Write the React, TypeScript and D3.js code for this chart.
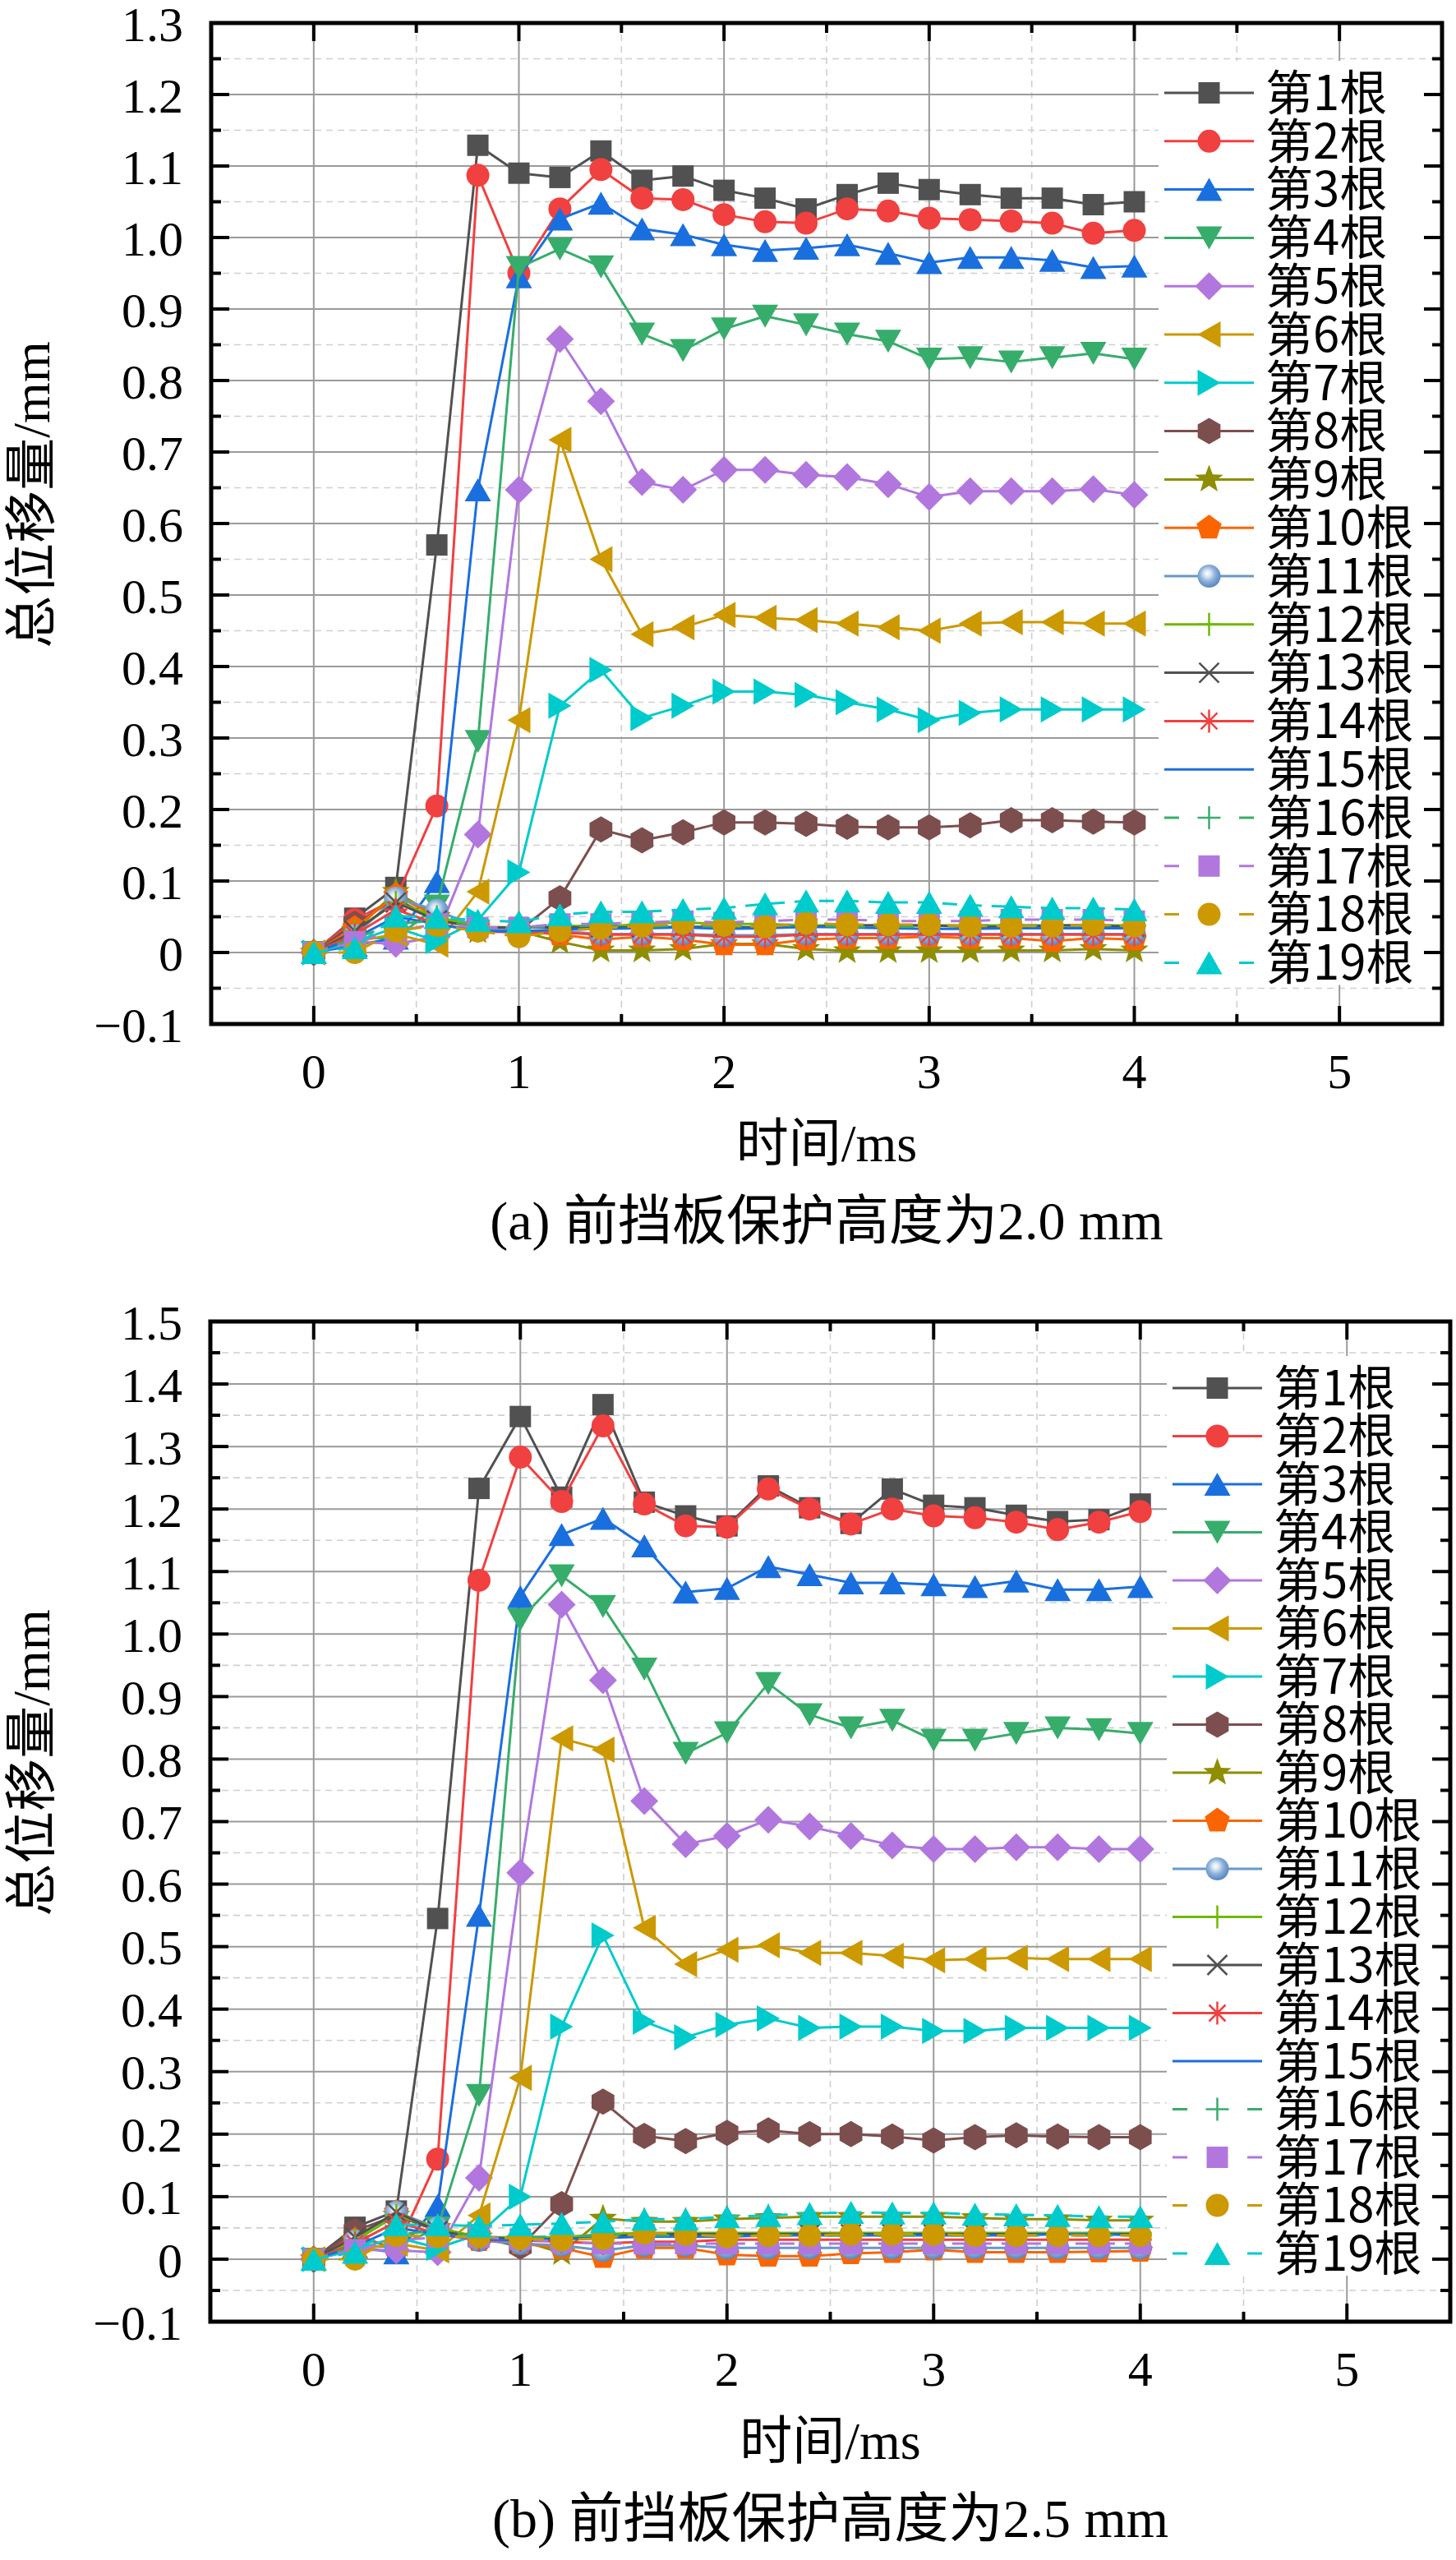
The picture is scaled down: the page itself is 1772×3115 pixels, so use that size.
import * as d3 from "d3";

// time axis (ms)
const times = [0, 0.2, 0.4, 0.6, 0.8, 1.0, 1.2, 1.4, 1.6, 1.8, 2.0, 2.2, 2.4, 2.6, 2.8, 3.0, 3.2, 3.4, 3.6, 3.8, 4.0];

const seriesNames = [
  "第1根", "第2根", "第3根", "第4根", "第5根", "第6根", "第7根", "第8根", "第9根", "第10根",
  "第11根", "第12根", "第13根", "第14根", "第15根", "第16根", "第17根", "第18根", "第19根",
];

const xTicks = [0, 1, 2, 3, 4, 5];
const xMinor = [0.5, 1.5, 2.5, 3.5, 4.5];
const yTicksA = [-0.1, 0, 0.1, 0.2, 0.3, 0.4, 0.5, 0.6, 0.7, 0.8, 0.9, 1.0, 1.1, 1.2, 1.3];
const yTicksB = [-0.1, 0, 0.1, 0.2, 0.3, 0.4, 0.5, 0.6, 0.7, 0.8, 0.9, 1.0, 1.1, 1.2, 1.3, 1.4, 1.5];

// (a) 2.0 mm
const a1 = [0, 0.048, 0.091, 0.57, 1.129, 1.09, 1.084, 1.121, 1.08, 1.086, 1.066, 1.055, 1.04, 1.06, 1.076, 1.067, 1.06, 1.055, 1.055, 1.046, 1.05];
const a2 = [0, 0.046, 0.075, 0.205, 1.087, 0.95, 1.04, 1.095, 1.055, 1.053, 1.032, 1.022, 1.02, 1.04, 1.037, 1.027, 1.025, 1.023, 1.02, 1.006, 1.01];
const a3 = [0, 0.01, 0.02, 0.099, 0.647, 0.945, 1.026, 1.048, 1.012, 1.004, 0.99, 0.982, 0.985, 0.99, 0.978, 0.965, 0.972, 0.972, 0.968, 0.958, 0.96];
const a4 = [0, 0.02, 0.02, 0.065, 0.295, 0.958, 0.984, 0.959, 0.865, 0.842, 0.872, 0.89, 0.878, 0.865, 0.855, 0.83, 0.832, 0.826, 0.832, 0.838, 0.83];
const a5 = [0, 0.015, 0.012, 0.022, 0.165, 0.647, 0.858, 0.771, 0.658, 0.647, 0.675, 0.675, 0.668, 0.665, 0.655, 0.637, 0.645, 0.645, 0.645, 0.648, 0.64];
const a6 = [0, 0.015, 0.026, 0.011, 0.085, 0.325, 0.717, 0.55, 0.445, 0.455, 0.472, 0.468, 0.465, 0.46, 0.455, 0.45, 0.46, 0.462, 0.462, 0.46, 0.46];
const a7 = [0, 0.015, 0.035, 0.016, 0.045, 0.112, 0.345, 0.395, 0.328, 0.345, 0.365, 0.365, 0.36, 0.35, 0.34, 0.325, 0.335, 0.34, 0.34, 0.34, 0.34];
const a8 = [0, 0.04, 0.075, 0.045, 0.035, 0.03, 0.076, 0.172, 0.157, 0.168, 0.182, 0.182, 0.18, 0.176, 0.175, 0.175, 0.178, 0.185, 0.185, 0.183, 0.182];
const a9 = [0, 0.03, 0.085, 0.05, 0.03, 0.03, 0.015, 0.003, 0.003, 0.005, 0.012, 0.012, 0.005, 0.002, 0.002, 0.002, 0.002, 0.003, 0.003, 0.005, 0.003];
const a10 = [0, 0.034, 0.08, 0.05, 0.035, 0.03, 0.025, 0.018, 0.022, 0.018, 0.011, 0.011, 0.018, 0.02, 0.02, 0.022, 0.02, 0.02, 0.016, 0.02, 0.018];
const a11 = [0, 0.024, 0.076, 0.059, 0.035, 0.03, 0.03, 0.026, 0.026, 0.026, 0.024, 0.024, 0.026, 0.026, 0.026, 0.026, 0.026, 0.026, 0.026, 0.026, 0.026];
const a12 = [0, 0.03, 0.07, 0.05, 0.036, 0.035, 0.038, 0.036, 0.04, 0.042, 0.04, 0.04, 0.038, 0.038, 0.038, 0.038, 0.038, 0.038, 0.038, 0.038, 0.038];
const a13 = [0, 0.03, 0.07, 0.045, 0.035, 0.035, 0.035, 0.035, 0.035, 0.036, 0.036, 0.035, 0.036, 0.038, 0.038, 0.038, 0.036, 0.036, 0.038, 0.038, 0.036];
const a14 = [0, 0.025, 0.06, 0.04, 0.03, 0.028, 0.028, 0.025, 0.025, 0.025, 0.022, 0.022, 0.025, 0.025, 0.025, 0.025, 0.025, 0.025, 0.025, 0.025, 0.025];
const a15 = [0, 0.02, 0.05, 0.04, 0.03, 0.03, 0.032, 0.033, 0.034, 0.035, 0.033, 0.034, 0.036, 0.035, 0.034, 0.033, 0.033, 0.034, 0.034, 0.034, 0.034];
const a16 = [0, 0.02, 0.04, 0.045, 0.035, 0.035, 0.036, 0.038, 0.036, 0.038, 0.036, 0.038, 0.038, 0.036, 0.036, 0.036, 0.038, 0.038, 0.038, 0.038, 0.038];
const a17 = [0, 0.015, 0.03, 0.04, 0.035, 0.035, 0.04, 0.04, 0.042, 0.044, 0.042, 0.044, 0.046, 0.046, 0.044, 0.044, 0.044, 0.046, 0.046, 0.046, 0.044];
const a18 = [0, 0, 0.03, 0.038, 0.03, 0.022, 0.03, 0.034, 0.037, 0.041, 0.038, 0.036, 0.041, 0.039, 0.039, 0.039, 0.037, 0.037, 0.037, 0.039, 0.037];
const a19 = [0, 0.007, 0.051, 0.049, 0.045, 0.043, 0.053, 0.057, 0.057, 0.06, 0.062, 0.068, 0.072, 0.072, 0.07, 0.07, 0.066, 0.064, 0.062, 0.062, 0.06];

// (b) 2.5 mm
const b1 = [0, 0.051, 0.077, 0.545, 1.233, 1.348, 1.219, 1.367, 1.211, 1.189, 1.173, 1.237, 1.202, 1.177, 1.232, 1.206, 1.202, 1.19, 1.18, 1.183, 1.208];
const b2 = [0, 0.04, 0.015, 0.16, 1.086, 1.283, 1.212, 1.333, 1.208, 1.173, 1.171, 1.232, 1.2, 1.176, 1.2, 1.189, 1.186, 1.179, 1.167, 1.179, 1.196];
const b3 = [0, 0.02, 0.01, 0.086, 0.55, 1.06, 1.159, 1.185, 1.141, 1.067, 1.073, 1.108, 1.095, 1.082, 1.082, 1.079, 1.076, 1.085, 1.071, 1.071, 1.076];
const b4 = [0, 0.02, 0.02, 0.05, 0.262, 1.023, 1.093, 1.044, 0.944, 0.809, 0.842, 0.921, 0.871, 0.85, 0.862, 0.83, 0.83, 0.841, 0.85, 0.847, 0.841];
const b5 = [0, 0.015, 0.014, 0.011, 0.13, 0.618, 1.047, 0.926, 0.733, 0.664, 0.677, 0.703, 0.692, 0.677, 0.662, 0.656, 0.656, 0.659, 0.659, 0.656, 0.656];
const b6 = [0, 0.015, 0.025, 0.014, 0.07, 0.29, 0.833, 0.815, 0.53, 0.472, 0.495, 0.502, 0.49, 0.49, 0.485, 0.478, 0.48, 0.482, 0.48, 0.48, 0.48];
const b7 = [0, 0.015, 0.035, 0.018, 0.04, 0.1, 0.372, 0.518, 0.38, 0.355, 0.375, 0.385, 0.37, 0.372, 0.372, 0.365, 0.365, 0.37, 0.37, 0.37, 0.37];
const b8 = [0, 0.045, 0.07, 0.045, 0.035, 0.02, 0.088, 0.252, 0.197, 0.189, 0.202, 0.206, 0.2, 0.2, 0.196, 0.19, 0.195, 0.198, 0.196, 0.195, 0.195];
const b9 = [0, 0.03, 0.07, 0.05, 0.035, 0.03, 0.01, 0.065, 0.06, 0.06, 0.064, 0.066, 0.068, 0.068, 0.068, 0.068, 0.066, 0.064, 0.064, 0.062, 0.062];
const b10 = [0, 0.03, 0.075, 0.05, 0.03, 0.025, 0.018, 0.003, 0.018, 0.018, 0.007, 0.005, 0.005, 0.009, 0.011, 0.015, 0.011, 0.011, 0.011, 0.012, 0.013];
const b11 = [0, 0.029, 0.075, 0.05, 0.03, 0.025, 0.022, 0.014, 0.022, 0.022, 0.018, 0.018, 0.018, 0.018, 0.018, 0.018, 0.018, 0.018, 0.018, 0.018, 0.018];
const b12 = [0, 0.03, 0.07, 0.05, 0.035, 0.035, 0.035, 0.04, 0.042, 0.042, 0.042, 0.042, 0.042, 0.042, 0.042, 0.042, 0.042, 0.042, 0.042, 0.042, 0.042];
const b13 = [0, 0.035, 0.075, 0.045, 0.035, 0.032, 0.032, 0.035, 0.04, 0.04, 0.04, 0.04, 0.04, 0.04, 0.04, 0.04, 0.04, 0.04, 0.04, 0.04, 0.04];
const b14 = [0, 0.025, 0.06, 0.04, 0.03, 0.03, 0.028, 0.025, 0.028, 0.028, 0.031, 0.031, 0.031, 0.031, 0.031, 0.031, 0.031, 0.031, 0.031, 0.031, 0.031];
const b15 = [0, 0.02, 0.05, 0.04, 0.032, 0.03, 0.032, 0.034, 0.036, 0.036, 0.036, 0.038, 0.038, 0.038, 0.038, 0.038, 0.038, 0.038, 0.04, 0.04, 0.038];
const b16 = [0, 0.02, 0.04, 0.045, 0.035, 0.035, 0.036, 0.038, 0.038, 0.038, 0.038, 0.038, 0.038, 0.038, 0.038, 0.038, 0.038, 0.038, 0.038, 0.038, 0.038];
const b17 = [0, 0.015, 0.03, 0.035, 0.035, 0.032, 0.028, 0.025, 0.025, 0.025, 0.025, 0.025, 0.025, 0.025, 0.025, 0.025, 0.025, 0.025, 0.025, 0.025, 0.025];
const b18 = [0, 0, 0.038, 0.036, 0.036, 0.033, 0.031, 0.033, 0.042, 0.04, 0.036, 0.038, 0.038, 0.04, 0.04, 0.04, 0.038, 0.038, 0.038, 0.038, 0.038];
const b19 = [0, 0.011, 0.055, 0.055, 0.053, 0.055, 0.057, 0.06, 0.064, 0.064, 0.068, 0.07, 0.073, 0.075, 0.074, 0.074, 0.072, 0.071, 0.07, 0.068, 0.068];

const dataA = [a1, a2, a3, a4, a5, a6, a7, a8, a9, a10, a11, a12, a13, a14, a15, a16, a17, a18, a19];
const dataB = [b1, b2, b3, b4, b5, b6, b7, b8, b9, b10, b11, b12, b13, b14, b15, b16, b17, b18, b19];

const COLORS = [
  "#515151", "#F14040", "#1A6FDF", "#37AD6B", "#B177DE", "#CC9900", "#00CBCC", "#7D4E4E", "#8E8E00", "#FB6501",
  "#6699CC", "#6FB802", "#515151", "#F14040", "#1A6FDF", "#37AD6B", "#B177DE", "#CC9900", "#00CBCC",
];
const SYMBOLS = [
  "square", "circle", "up", "down", "diamond", "left", "right", "hexagon", "star", "pentagon",
  "sphere", "plus", "cross", "asterisk", "none", "plus", "square", "circle", "up",
];

const SERIF = "'Times New Roman', 'Liberation Serif', 'Noto Sans CJK SC', serif";
const CJK = "'Noto Sans CJK SC', 'Liberation Sans', sans-serif";

function polygon(n: number, r: number, start: number) {
  const pts = d3.range(n).map((i) => {
    const a = start + (i * 2 * Math.PI) / n;
    return [r * Math.cos(a), r * Math.sin(a)];
  });
  return "M" + pts.map((p) => p[0].toFixed(2) + "," + p[1].toFixed(2)).join("L") + "Z";
}

function starPath(outer: number, inner: number) {
  const pts = d3.range(10).map((i) => {
    const r = i % 2 === 0 ? outer : inner;
    const a = -Math.PI / 2 + (i * Math.PI) / 5;
    return [r * Math.cos(a), r * Math.sin(a)];
  });
  return "M" + pts.map((p) => p[0].toFixed(2) + "," + p[1].toFixed(2)).join("L") + "Z";
}

const FILLED: Record<string, string> = {
  square: "M-13,-13H13V13H-13Z",
  up: "M0,-14L16,14L-16,14Z",
  down: "M0,14L16,-14L-16,-14Z",
  left: "M-14,0L14,-16L14,16Z",
  right: "M14,0L-14,-16L-14,16Z",
  diamond: "M0,-17L17,0L0,17L-17,0Z",
  hexagon: polygon(6, 16, -Math.PI / 2),
  star: starPath(18, 7.5),
  pentagon: polygon(5, 16, -Math.PI / 2),
};
const STROKED: Record<string, string> = {
  plus: "M-14,0H14M0,-14V14",
  cross: "M-12,-12L12,12M-12,12L12,-12",
  asterisk: "M0,-14V14M-14,0H14M-10,-10L10,10M-10,10L10,-10",
};

function Marker({ type, color, x, y }: { type: string; color: string; x: number; y: number }) {
  if (type === "none") return null;
  if (type === "circle") return <circle cx={x} cy={y} r={14} fill={color} />;
  if (type === "sphere") return <circle cx={x} cy={y} r={14} fill="url(#sphereGrad)" />;
  if (FILLED[type]) return <path d={FILLED[type]} transform={`translate(${x},${y})`} fill={color} />;
  return <path d={STROKED[type]} transform={`translate(${x},${y})`} fill="none" stroke={color} strokeWidth={2.5} />;
}

interface PanelCfg {
  left: number;
  right: number;
  top: number;
  bottom: number;
  yTicks: number[];
  titleY: number;
  legendFirst: number;
  legendStep: number;
  caption: string;
}

const fmt = (v: number) => (Math.abs(v) < 1e-9 ? "0" : v.toFixed(1).replace("-", "\u2212"));

function Panel({ cfg, data }: { cfg: PanelCfg; data: number[][] }) {
  const { left, right, top, bottom, yTicks } = cfg;
  const x = d3.scaleLinear().domain([-0.5, 5.5]).range([left, right]);
  const y = d3.scaleLinear().domain([yTicks[0], yTicks[yTicks.length - 1]]).range([bottom, top]);
  const yMinor = yTicks.slice(1).map((v, i) => (v + yTicks[i]) / 2);
  const line = d3
    .line<number>()
    .x((_, i) => x(times[i]))
    .y((d) => y(d));

  const lx0 = right - 338;
  const lx1 = right - 229;
  const lxm = (lx0 + lx1) / 2;
  const textX = right - 215;
  const rowY = (i: number) => cfg.legendFirst + i * cfg.legendStep;
  const boxTop = rowY(0) - 39;
  const boxBottom = rowY(seriesNames.length - 1) + 27;
  const midX = (left + right) / 2;
  const midY = (top + bottom) / 2;

  return (
    <g>
      {/* grid */}
      {xMinor.map((t) => (
        <line key={"xm" + t} x1={x(t)} x2={x(t)} y1={top} y2={bottom} stroke="#cfcfcf" strokeWidth={1.6} strokeDasharray="8 6" />
      ))}
      {yMinor.map((v) => (
        <line key={"ym" + v} x1={left} x2={right} y1={y(v)} y2={y(v)} stroke="#cfcfcf" strokeWidth={1.6} strokeDasharray="8 6" />
      ))}
      {xTicks.map((t) => (
        <line key={"xg" + t} x1={x(t)} x2={x(t)} y1={top} y2={bottom} stroke="#9a9a9a" strokeWidth={2} />
      ))}
      {yTicks.map((v) => (
        <line key={"yg" + v} x1={left} x2={right} y1={y(v)} y2={y(v)} stroke="#9a9a9a" strokeWidth={2} />
      ))}

      {/* series */}
      {data.map((vals, si) => (
        <g key={"s" + si}>
          <path
            d={line(vals) || ""}
            fill="none"
            stroke={COLORS[si]}
            strokeWidth={3}
            strokeLinejoin="round"
            strokeDasharray={si >= 15 ? "18 12" : undefined}
          />
          {vals.map((v, i) => (
            <Marker key={i} type={SYMBOLS[si]} color={COLORS[si]} x={x(times[i])} y={y(v)} />
          ))}
        </g>
      ))}

      {/* legend */}
      <rect x={right - 345} y={boxTop} width={343} height={boxBottom - boxTop} fill="#ffffff" />
      {seriesNames.map((name, si) => (
        <g key={"l" + si}>
          <line
            x1={lx0}
            x2={lx1}
            y1={rowY(si)}
            y2={rowY(si)}
            stroke={COLORS[si]}
            strokeWidth={3}
            strokeDasharray={si >= 15 ? "18 73 18" : undefined}
          />
          <Marker type={SYMBOLS[si]} color={COLORS[si]} x={lxm} y={rowY(si)} />
          <text x={textX} y={rowY(si)} dy="0.36em" fontFamily={CJK} fontSize={58} fill="#000">
            {name}
          </text>
        </g>
      ))}

      {/* ticks */}
      {xTicks.map((t) => (
        <g key={"xt" + t}>
          <line x1={x(t)} x2={x(t)} y1={bottom} y2={bottom - 22} stroke="#000" strokeWidth={4} />
          <line x1={x(t)} x2={x(t)} y1={top} y2={top + 22} stroke="#000" strokeWidth={4} />
        </g>
      ))}
      {xMinor.map((t) => (
        <g key={"xmt" + t}>
          <line x1={x(t)} x2={x(t)} y1={bottom} y2={bottom - 12} stroke="#000" strokeWidth={4} />
          <line x1={x(t)} x2={x(t)} y1={top} y2={top + 12} stroke="#000" strokeWidth={4} />
        </g>
      ))}
      {yTicks.map((v) => (
        <g key={"yt" + v}>
          <line x1={left} x2={left + 22} y1={y(v)} y2={y(v)} stroke="#000" strokeWidth={4} />
          <line x1={right} x2={right - 22} y1={y(v)} y2={y(v)} stroke="#000" strokeWidth={4} />
        </g>
      ))}
      {yMinor.map((v) => (
        <g key={"ymt" + v}>
          <line x1={left} x2={left + 12} y1={y(v)} y2={y(v)} stroke="#000" strokeWidth={4} />
          <line x1={right} x2={right - 12} y1={y(v)} y2={y(v)} stroke="#000" strokeWidth={4} />
        </g>
      ))}

      {/* frame */}
      <rect x={left} y={top} width={right - left} height={bottom - top} fill="none" stroke="#000" strokeWidth={5} />

      {/* tick labels */}
      {xTicks.map((t) => (
        <text key={"xl" + t} x={x(t)} y={bottom + 78} textAnchor="middle" fontFamily={SERIF} fontSize={60} fill="#000">
          {t}
        </text>
      ))}
      {yTicks.map((v) => (
        <text key={"yl" + v} x={left - 34} y={y(v)} dy="0.36em" textAnchor="end" fontFamily={SERIF} fontSize={60} fill="#000">
          {fmt(v)}
        </text>
      ))}

      {/* axis titles */}
      <text x={midX} y={bottom + 167} textAnchor="middle" fontFamily={SERIF} fontSize={64} fill="#000">
        时间/ms
      </text>
      <text
        transform={`translate(37,${cfg.titleY}) rotate(-90)`}
        dy="0.36em"
        textAnchor="middle"
        fontFamily={SERIF}
        fontSize={64}
        fill="#000"
      >
        总位移量/mm
      </text>
      <text x={midX} y={bottom + 262} textAnchor="middle" fontFamily={SERIF} fontSize={66} fill="#000">
        {cfg.caption}
      </text>
      <desc>{midY}</desc>
    </g>
  );
}

const panelA: PanelCfg = {
  left: 257,
  right: 1755,
  top: 28,
  bottom: 1246,
  yTicks: yTicksA,
  titleY: 602,
  legendFirst: 113,
  legendStep: 58.8,
  caption: "(a) 前挡板保护高度为2.0 mm",
};

const panelB: PanelCfg = {
  left: 256,
  right: 1765,
  top: 1608,
  bottom: 2825,
  yTicks: yTicksB,
  titleY: 2145,
  legendFirst: 1689,
  legendStep: 58.5,
  caption: "(b) 前挡板保护高度为2.5 mm",
};

export default function App() {
  return (
    <svg
      width={1772}
      height={3115}
      viewBox="0 0 1772 3115"
      style={{ position: "absolute", left: 0, top: 0, background: "#fff" }}
    >
      <defs>
        <radialGradient id="sphereGrad" cx="45%" cy="42%" r="60%" fx="42%" fy="38%">
          <stop offset="0" stopColor="#ffffff" />
          <stop offset="0.25" stopColor="#d6e4f3" />
          <stop offset="0.55" stopColor="#8db2da" />
          <stop offset="1" stopColor="#5683bd" />
        </radialGradient>
      </defs>
      <rect width={1772} height={3115} fill="#fff" />
      <Panel cfg={panelA} data={dataA} />
      <Panel cfg={panelB} data={dataB} />
    </svg>
  );
}
